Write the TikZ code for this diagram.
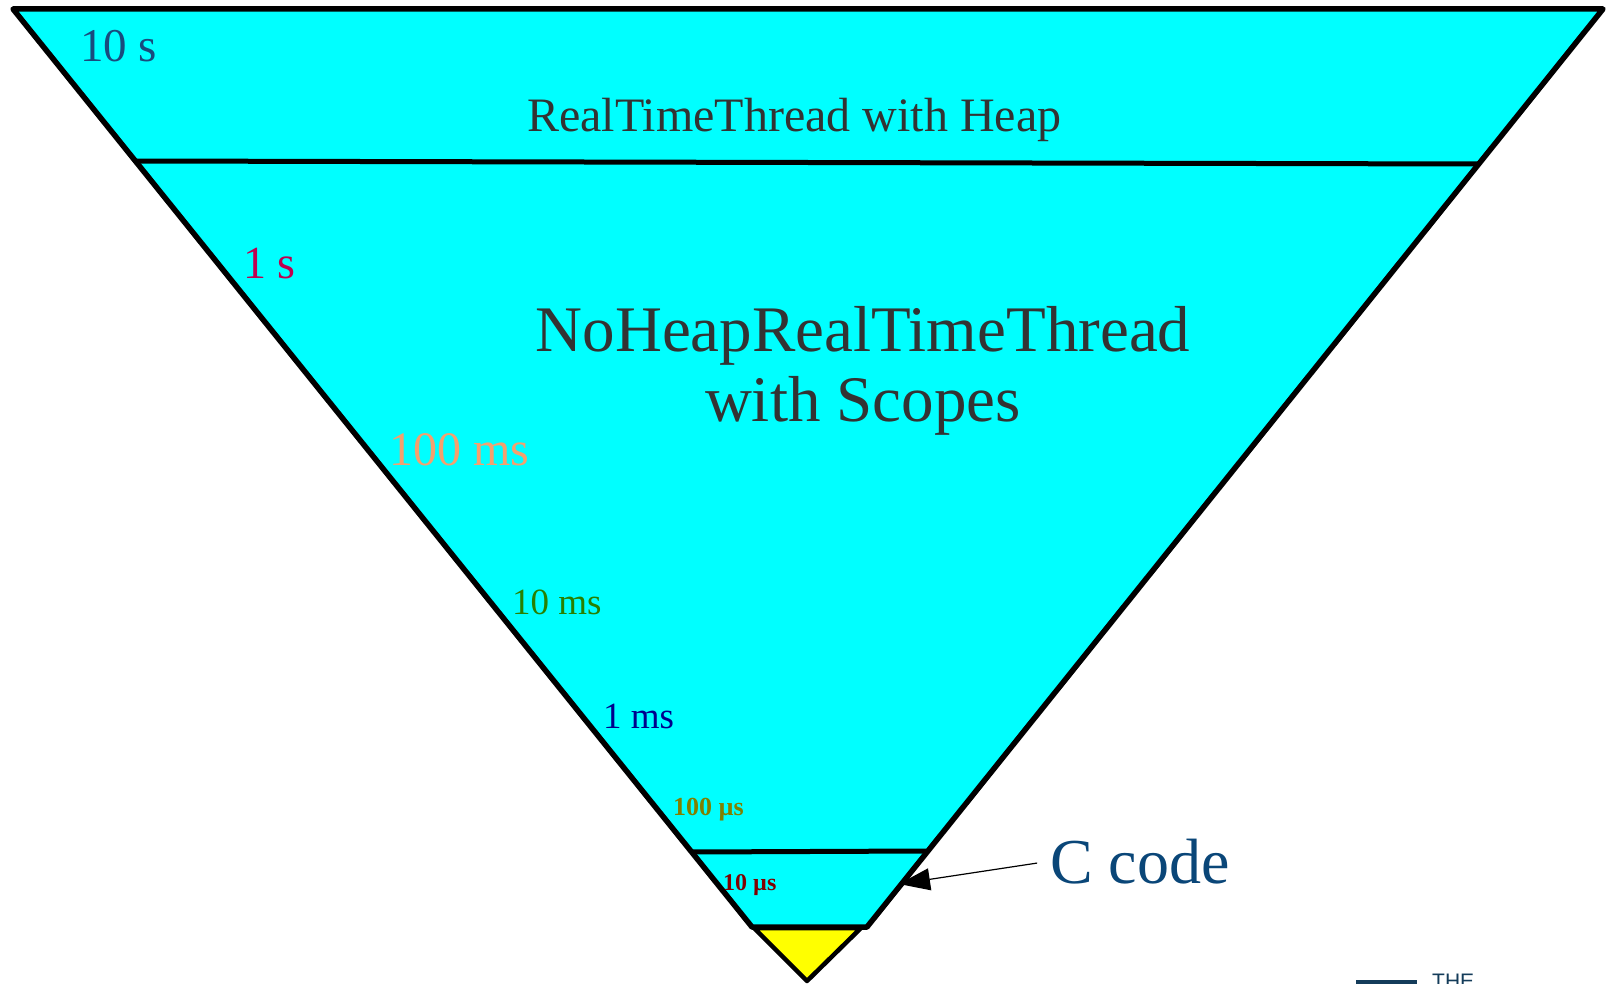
\documentclass[tikz,border=0pt]{standalone}
\usepackage{fontspec}
\setmainfont{Liberation Serif}
\newfontfamily\logofont{Liberation Sans}
\usetikzlibrary{arrows.meta}
\definecolor{cyanfill}{RGB}{0,255,255}
\definecolor{yellowfill}{RGB}{255,255,0}
\definecolor{graytext}{RGB}{51,51,51}
\definecolor{tensec}{RGB}{25,75,125}
\definecolor{onesec}{RGB}{190,0,80}
\definecolor{hundredms}{RGB}{245,160,110}
\definecolor{tenms}{RGB}{40,128,0}
\definecolor{onems}{RGB}{0,0,140}
\definecolor{hundredus}{RGB}{128,128,0}
\definecolor{tenus}{RGB}{128,0,0}
\definecolor{ccodecol}{RGB}{10,70,120}
\definecolor{logocol}{RGB}{20,60,90}
\tikzset{
  outline/.style={draw=black,line width=5.5pt,line join=round},
  divider/.style={draw=black,line width=5pt},
  lbl/.style={inner sep=0pt,anchor=base west},
}
\begin{document}
\begin{tikzpicture}[x=1pt,y=-1pt]
\useasboundingbox (0,0) rectangle (1610,984);
\clip (0,0) rectangle (1610,984);
% main inverted triangle
\path[outline,fill=cyanfill] (13,9) -- (1603,9) -- (867,927) -- (752,927) -- cycle;
\draw[divider] (135,161) -- (1479,164);
\draw[divider] (692,852) -- (926,851);
% yellow tip
\path[outline,line width=4.5pt,fill=yellowfill] (754,928) -- (861,928) -- (807,981) -- cycle;
% labels
\node[lbl,text=tensec,font=\fontsize{47}{56}\selectfont] (l10s) at (80,62) {10 s};
\node[lbl,text=graytext,font=\fontsize{48}{58}\selectfont] (heap) at (527,132) {RealTimeThread with Heap};
\node[lbl,text=onesec,font=\fontsize{46}{55}\selectfont] (l1s) at (243,279) {1 s};
\node[inner sep=0pt,anchor=base,text=graytext,align=center,font=\fontsize{65}{70}\selectfont] (noheap) at (863,421) {NoHeapRealTimeThread\\with Scopes};
\node[lbl,text=hundredms,font=\fontsize{48}{58}\selectfont] (l100ms) at (389,465) {100 ms};
\node[lbl,text=tenms,font=\fontsize{37}{44}\selectfont] (l10ms) at (512,614) {10 ms};
\node[lbl,text=onems,font=\fontsize{37}{44}\selectfont] (l1ms) at (603,728) {1 ms};
\node[lbl,text=hundredus,font=\fontsize{26}{31}\selectfont\bfseries] (l100us) at (673,815) {100 µs};
\node[lbl,text=tenus,font=\fontsize{24}{29}\selectfont\bfseries] (l10us) at (723,890) {10 µs};
\node[lbl,text=ccodecol,font=\fontsize{64}{77}\selectfont] (ccode) at (1050,883) {C code};
\coordinate (tip) at (899,884);
\draw[line width=1.2pt,shorten <=13pt,-{Triangle[length=31pt,width=22pt]}] (ccode.west) -- (tip);
% cropped logo
\fill[logocol] (1356,980) rectangle (1417,990);
\node[inner sep=0pt,anchor=base west,text=logocol,font=\logofont\fontsize{21}{25}\selectfont] (logo) at (1432,988) {THE};
\end{tikzpicture}
\end{document}
